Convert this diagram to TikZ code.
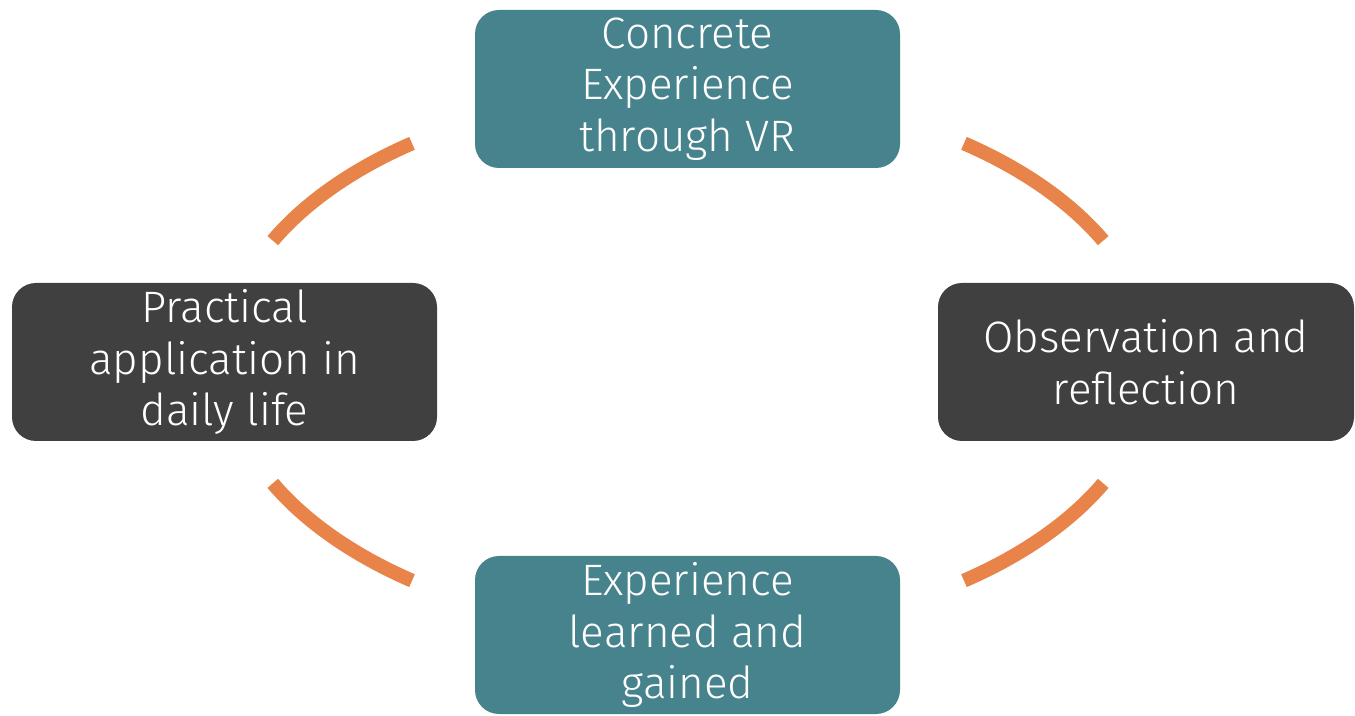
\documentclass[tikz,border=0pt]{standalone}
\usepackage{fontspec}
\setmainfont[UprightFont=* Light]{Fira Sans}
\definecolor{tealbox}{RGB}{70,131,140}
\definecolor{darkbox}{RGB}{64,64,64}
\definecolor{arcorange}{RGB}{232,131,74}
\begin{document}
\begin{tikzpicture}[x=1pt,y=1pt,
  stagebox/.style={rectangle, rounded corners=24pt, minimum width=425pt, minimum height=158pt,
    inner sep=0pt, text=white, align=center, font=\fontsize{44}{51.5}\selectfont},
  cyclearc/.style={draw=arcorange, line width=14pt, line cap=butt}]
\useasboundingbox (0,0) rectangle (1355,715);
\node[stagebox, fill=tealbox] (top) at (687.5,626) {Concrete\\Experience\\through VR};
\node[stagebox, fill=darkbox] (left) at (224.5,353) {Practical\\application in\\daily life};
\node[stagebox, fill=darkbox, minimum width=416pt] (right) at (1146,353) {Observation and\\reflection};
\node[stagebox, fill=tealbox] (bottom) at (687.5,80) {Experience\\learned and\\gained};
\coordinate (c) at (688,353);
\coordinate (tl) at ([shift={(126.5:464pt and 272pt)}]c);
\coordinate (tr) at ([shift={(53.5:464pt and 272pt)}]c);
\coordinate (br) at ([shift={(-26.5:464pt and 272pt)}]c);
\coordinate (bl) at ([shift={(-126.5:464pt and 272pt)}]c);
\draw[cyclearc] (tl) arc[start angle=126.5, end angle=153.5, x radius=464pt, y radius=272pt];
\draw[cyclearc] (tr) arc[start angle=53.5, end angle=26.5, x radius=464pt, y radius=272pt];
\draw[cyclearc] (br) arc[start angle=-26.5, end angle=-53.5, x radius=464pt, y radius=272pt];
\draw[cyclearc] (bl) arc[start angle=-126.5, end angle=-153.5, x radius=464pt, y radius=272pt];
\end{tikzpicture}
\end{document}
